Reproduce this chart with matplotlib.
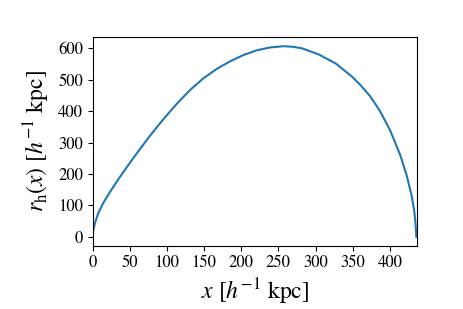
import matplotlib
matplotlib.use("Agg")
import matplotlib.pyplot as plt

# values
x_vals = [0, 0.9, 3.2, 7.7, 14.4, 23.4, 34.5, 45.7, 57, 68, 79.3, 87.4, 95.4,
          113.4, 131.3, 149.2, 167.2, 185.1, 203, 221, 238.8, 257, 270, 282,
          304, 327, 349, 360, 373.3, 386.7, 400.1, 413.6, 422.6, 429.3, 432.8,
          434.5, 435.5]
r_vals = [10, 21, 44, 76, 108, 143, 183, 221, 258, 293, 328, 352, 375,
          424, 468, 505, 535, 559, 579, 594, 603, 607, 605, 600,
          581, 552, 510, 484, 448, 400, 340, 262, 195, 130, 80,
          40, 0]

plt.rcParams['font.family'] = ['STIXGeneral', 'DejaVu Serif']
plt.rcParams['mathtext.fontset'] = 'stix'

fig = plt.figure(figsize=(4.63, 3.09), dpi=100)
ax = fig.add_axes([0.2, 0.205, 0.7, 0.676])
ax.plot(x_vals, r_vals, color='#1f77b4', lw=1.5)
ax.set_xlim(0, 436)
ax.set_ylim(-28, 637)
ax.set_xticks(range(0, 401, 50))
ax.set_yticks(range(0, 601, 100))
ax.tick_params(labelsize=12)
ax.set_xlabel(r'$x$ [$h^{-1}$ kpc]', fontsize=17)
ax.set_ylabel(r'$r_\mathrm{h}(x)$ [$h^{-1}$ kpc]', fontsize=17)

fig.savefig('out.png', dpi=100)
